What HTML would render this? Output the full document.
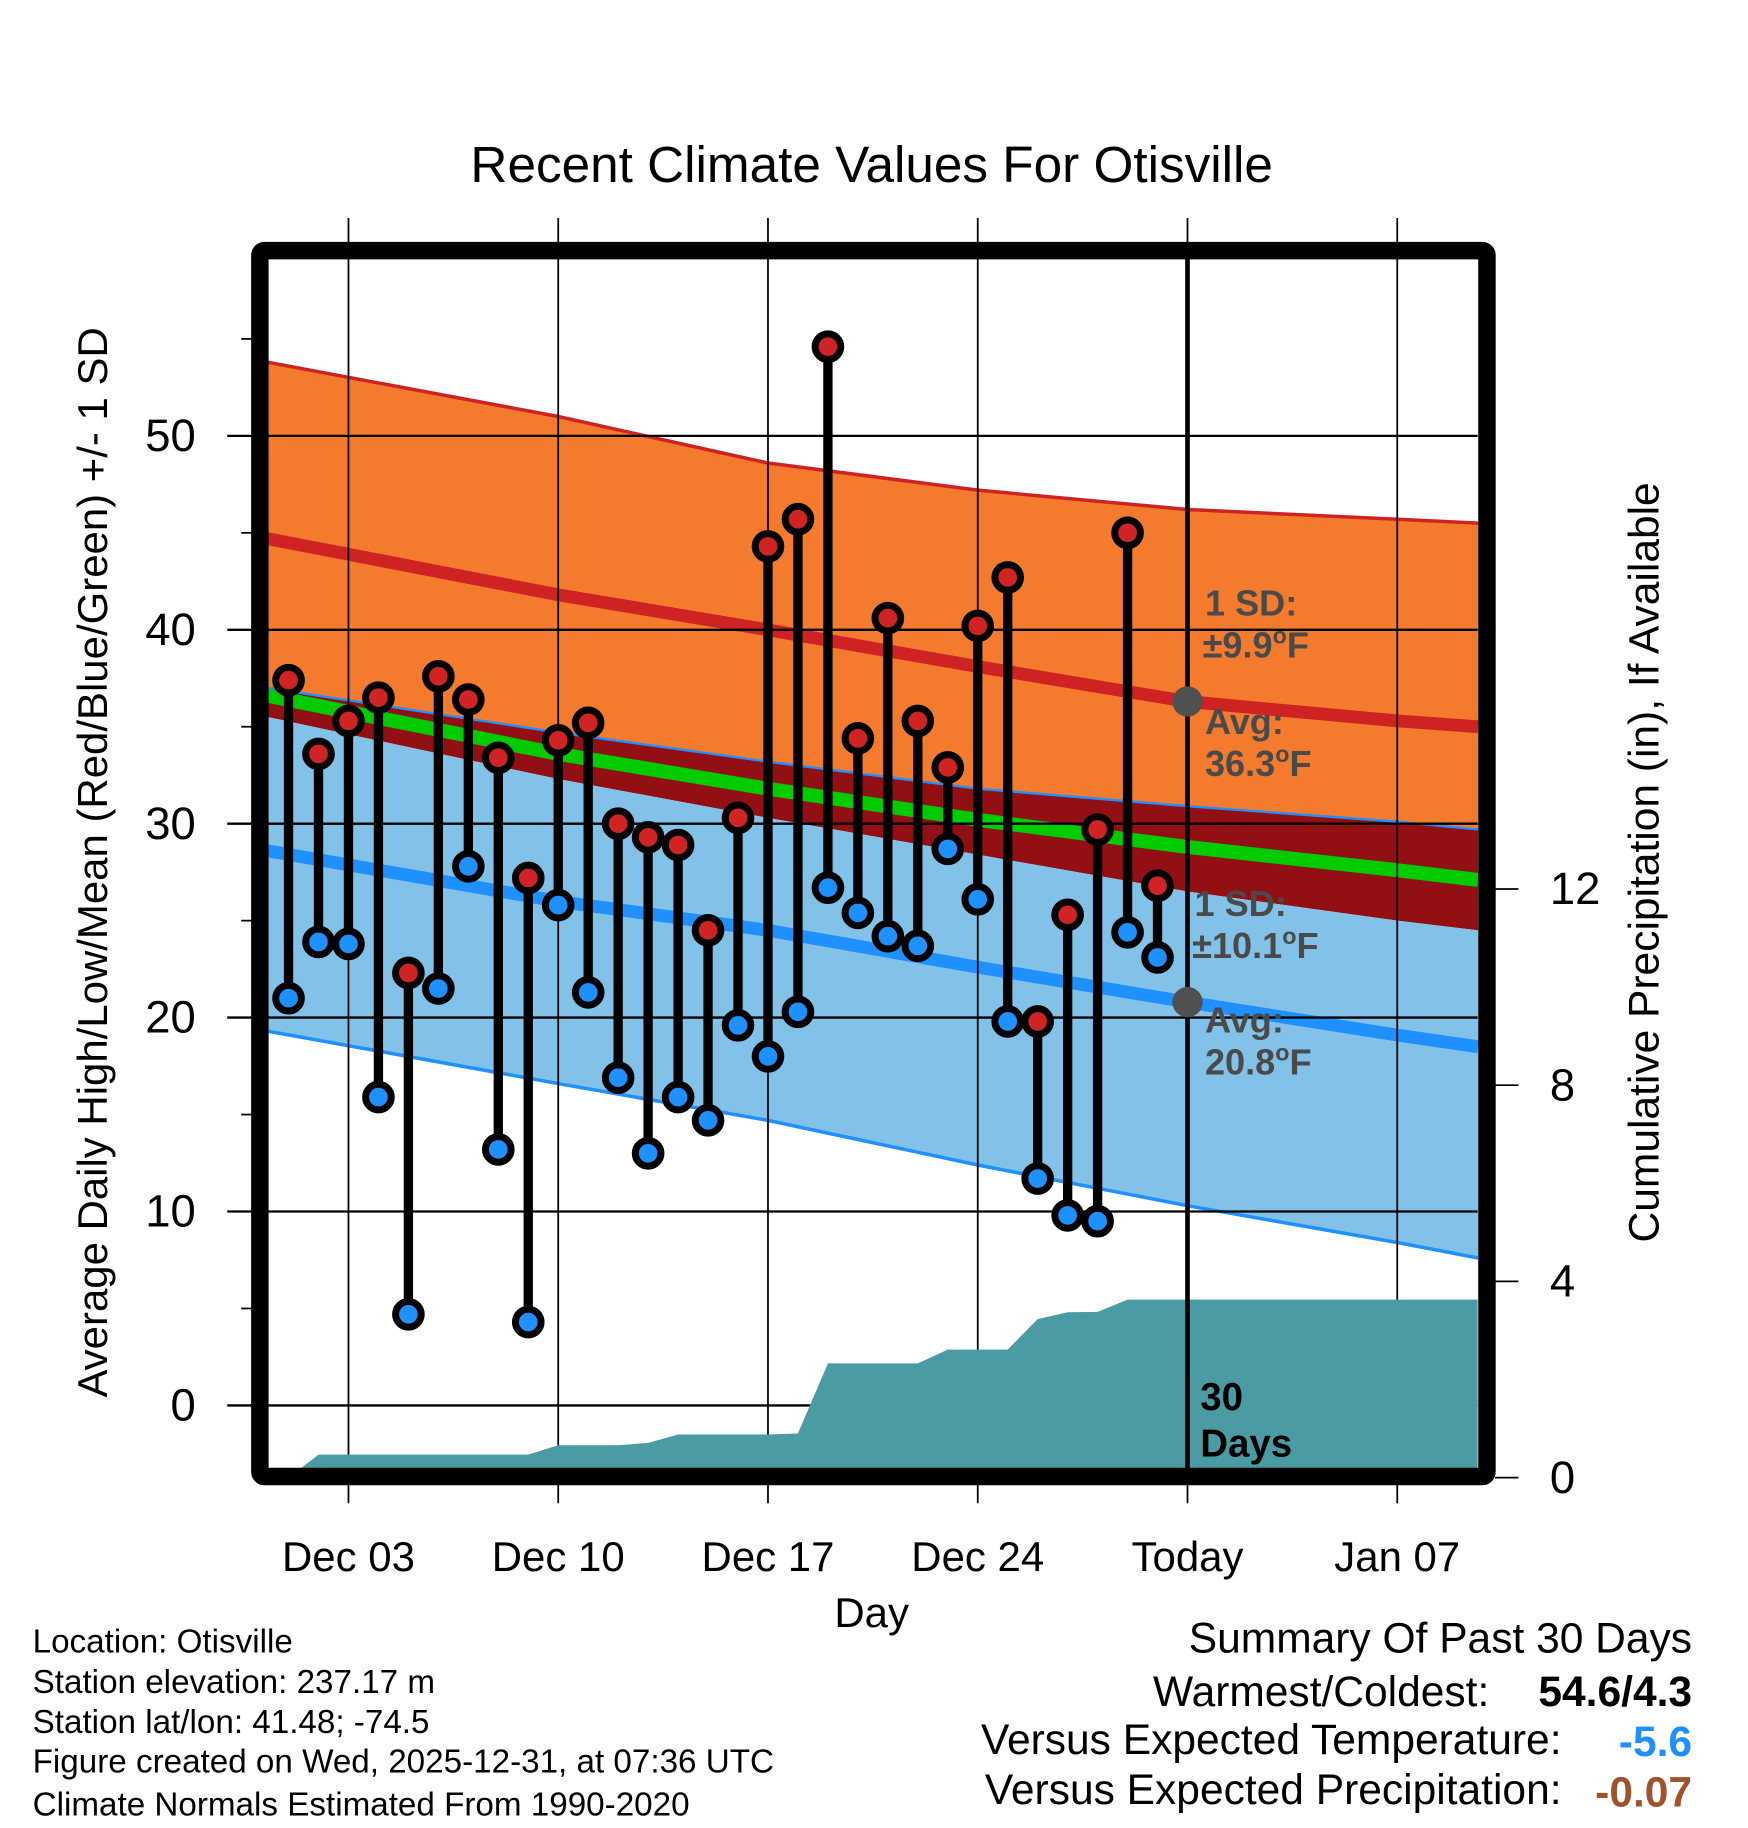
<!DOCTYPE html>
<html><head><meta charset="utf-8"><style>
html,body{margin:0;padding:0;background:#fff;}
svg{display:block;font-family:"Liberation Sans",Arial,sans-serif;}
</style></head><body>
<svg id="chart" width="1748" height="1828" viewBox="0 0 1500 1568.6" xmlns="http://www.w3.org/2000/svg">
<g id="fills"></g><g id="grid"></g><g id="precip"></g><g id="marks"></g><g id="frame"></g><g id="labels"></g>
</svg>
<script>
const days=[1,2,3,4,5,6,7,8,9,10,11,12,13,14,15,16,17,18,19,20,21,22,23,24,25,26,27,28,29,30];
const highs=[37.4,33.6,35.3,36.5,22.3,37.6,36.4,33.4,27.2,34.3,35.2,30.0,29.3,28.9,24.5,30.3,44.3,45.7,54.6,34.4,40.6,35.3,32.9,40.2,42.7,19.8,25.3,29.7,45.0,26.8];
const lows=[21.0,23.9,23.8,15.9,4.7,21.5,27.8,13.2,4.3,25.8,21.3,16.9,13.0,15.9,14.7,19.6,18.0,20.3,26.7,25.4,24.2,23.7,28.7,26.1,19.8,11.7,9.8,9.5,24.4,23.1];
const precipCum=[0,0.47,0.47,0.47,0.47,0.47,0.47,0.47,0.47,0.66,0.66,0.66,0.71,0.88,0.88,0.88,0.88,0.9,2.33,2.33,2.33,2.33,2.61,2.61,2.61,3.23,3.37,3.38,3.63,3.63];
const normDays=[0.3,10,17,24,31,38,40.7];
const hiUpper=[53.8,51.0,48.6,47.2,46.2,45.7,45.5];
const hiAvg=[44.7,41.8,40.0,38.1,36.3,35.3,35.0];
const hiLower=[35.5,32.3,30.3,28.4,26.5,25.0,24.5];
const meanAvg=[36.6,33.6,31.8,30.2,28.8,27.6,27.1];
const loUpper=[37.0,34.7,33.2,31.8,30.9,30.1,29.7];
const loAvg=[28.6,26.0,24.5,22.6,20.8,19.1,18.5];
const loLower=[19.3,16.6,14.7,12.4,10.3,8.4,7.6];
const yTicks=[0,10,20,30,40,50];
const yMinor=[5,15,25,35,45,55];
const pTicks=[0,4,8,12];
const xTickDays=[3,10,17,24,31,38];
const xTickLabels=["Dec 03","Dec 10","Dec 17","Dec 24","Today","Jan 07"];

const L=230,R=1268,T=222,B=1260;
const X=d=>247.6+(d-1)*25.714;
const Y=v=>1206-16.64*v;
const P=p=>1268-42.1*p;
const NS="http://www.w3.org/2000/svg";
function mk(parent,tag,attrs,text){const e=document.createElementNS(NS,tag);for(const k in attrs)e.setAttribute(k,attrs[k]);if(text!==undefined)e.textContent=text;document.getElementById(parent).appendChild(e);return e;}
const line=arr=>normDays.map((d,i)=>X(d).toFixed(1)+","+Y(arr[i]).toFixed(1));
function band(a,b){return line(a).concat(line(b).reverse()).join(" ");}

let e;
e=mk("fills","polygon",{points:band(hiUpper,loUpper),fill:"#f47a2e"});


e=mk("fills","polygon",{points:band(loUpper,hiLower),fill:"#920f14"});


e=mk("fills","polygon",{points:band(hiLower,loLower),fill:"#83c2e8"});


e=mk("fills","polyline",{points:line(hiUpper).join(" "),fill:"none",stroke:"#cf2323",'stroke-width':3});


e=mk("fills","polyline",{points:line(loUpper).join(" "),fill:"none",stroke:"#1e90ff",'stroke-width':2});


e=mk("fills","polyline",{points:line(loLower).join(" "),fill:"none",stroke:"#1e90ff",'stroke-width':3});


e=mk("fills","polyline",{points:line(hiAvg).join(" "),fill:"none",stroke:"#cf2323",'stroke-width':11});


e=mk("fills","polyline",{points:line(meanAvg).join(" "),fill:"none",stroke:"#00cc00",'stroke-width':12});


e=mk("fills","polyline",{points:line(loAvg).join(" "),fill:"none",stroke:"#1e90ff",'stroke-width':11});



yTicks.forEach(v=>{
  e=mk("grid","line",{x1:195,x2:R,y1:Y(v),y2:Y(v),stroke:"#000",'stroke-width':2});
  
  
  e=mk("labels","text",{x:168,y:Y(v)+13,'text-anchor':'end','font-size':39},String(v));
  
  
});
yMinor.forEach(v=>{
  e=mk("grid","line",{x1:207,x2:216,y1:Y(v),y2:Y(v),stroke:"#000",'stroke-width':1.5});
  
  
});
xTickDays.forEach((d,i)=>{
  e=mk("grid","line",{x1:X(d),x2:X(d),y1:187,y2:1290,stroke:"#000",'stroke-width':1.5});
  
  
  e=mk("labels","text",{x:X(d),y:1348,'text-anchor':'middle','font-size':36},xTickLabels[i]);
  
  
});
pTicks.forEach(p=>{
  e=mk("grid","line",{x1:1283,x2:1303,y1:P(p),y2:P(p),stroke:"#000",'stroke-width':1.5});
  
  
  e=mk("labels","text",{x:1330,y:P(p)+13,'font-size':39},String(p));
  
  
});

let pts=[X(days[0])+","+P(0)];
days.forEach((d,i)=>pts.push(X(d).toFixed(1)+","+P(precipCum[i]).toFixed(1)));
pts.push(R+","+P(precipCum[precipCum.length-1]).toFixed(1));
pts.push(R+","+P(0));
e=mk("precip","polygon",{points:pts.join(" "),fill:"#4a9ba4"});



e=mk("precip","line",{x1:X(31),x2:X(31),y1:T,y2:B,stroke:"#000",'stroke-width':4});



days.forEach((d,i)=>{
  e=mk("marks","line",{x1:X(d),x2:X(d),y1:Y(highs[i]),y2:Y(lows[i]),stroke:"#000",'stroke-width':8});
  
  
});
days.forEach((d,i)=>{
  e=mk("marks","circle",{cx:X(d),cy:Y(highs[i]),r:11,fill:"#d02424",stroke:"#000",'stroke-width':6});
  
  
  e=mk("marks","circle",{cx:X(d),cy:Y(lows[i]),r:11,fill:"#1e90ff",stroke:"#000",'stroke-width':6});
  
  
});
e=mk("marks","circle",{cx:X(31),cy:Y(hiAvg[4]),r:13,fill:"#505050"});


e=mk("marks","circle",{cx:X(31),cy:Y(loAvg[4]),r:13,fill:"#505050"});



e=mk("frame","rect",{x:223,y:215,width:1053,height:1052,fill:"none",stroke:"#000",'stroke-width':15,rx:4});


</script>
<svg style="position:absolute;left:0;top:0" width="1748" height="1828" viewBox="0 0 1500 1568.6" xmlns="http://www.w3.org/2000/svg" font-family="Liberation Sans, Arial, sans-serif">
<text x="748" y="156" text-anchor="middle" font-size="44">Recent Climate Values For Otisville</text>
<text transform="translate(92,740) rotate(-90)" text-anchor="middle" font-size="36">Average Daily High/Low/Mean (Red/Blue/Green) +/- 1 SD</text>
<text transform="translate(1423,740) rotate(-90)" text-anchor="middle" font-size="36.5">Cumulative Precipitation (in), If Available</text>
<text x="748" y="1396" text-anchor="middle" font-size="36">Day</text>
<g fill="#4a4a4a" font-weight="bold" font-size="31">
<text x="1034" y="528">1 SD:</text><text x="1032" y="564">±9.9<tspan font-size="20" dy="-12">o</tspan><tspan dy="12">F</tspan></text>
<text x="1034" y="630">Avg:</text><text x="1034" y="666">36.3<tspan font-size="20" dy="-12">o</tspan><tspan dy="12">F</tspan></text>
<text x="1025" y="786">1 SD:</text><text x="1023" y="822">±10.1<tspan font-size="20" dy="-12">o</tspan><tspan dy="12">F</tspan></text>
<text x="1034" y="886">Avg:</text><text x="1034" y="922">20.8<tspan font-size="20" dy="-12">o</tspan><tspan dy="12">F</tspan></text>
</g>
<g font-weight="bold" font-size="33"><text x="1030" y="1210">30</text><text x="1030" y="1250">Days</text></g>
<g font-size="28.5">
<text x="28" y="1418">Location: Otisville</text>
<text x="28" y="1453">Station elevation: 237.17 m</text>
<text x="28" y="1487">Station lat/lon: 41.48; -74.5</text>
<text x="28" y="1521">Figure created on Wed, 2025-12-31, at 07:36 UTC</text>
<text x="28" y="1558">Climate Normals Estimated From 1990-2020</text>
</g>
<g font-size="36.5">
<text x="1452" y="1418" text-anchor="end">Summary Of Past 30 Days</text>
<text x="1278" y="1464" text-anchor="end">Warmest/Coldest:</text>
<text x="1452" y="1464" text-anchor="end" font-weight="bold">54.6/4.3</text>
<text x="1340" y="1505" text-anchor="end">Versus Expected Temperature:</text>
<text x="1452" y="1507" text-anchor="end" font-weight="bold" fill="#1e90ff">-5.6</text>
<text x="1340" y="1548" text-anchor="end">Versus Expected Precipitation:</text>
<text x="1452" y="1550" text-anchor="end" font-weight="bold" fill="#a0522d">-0.07</text>
</g>
</svg>
</body></html>
